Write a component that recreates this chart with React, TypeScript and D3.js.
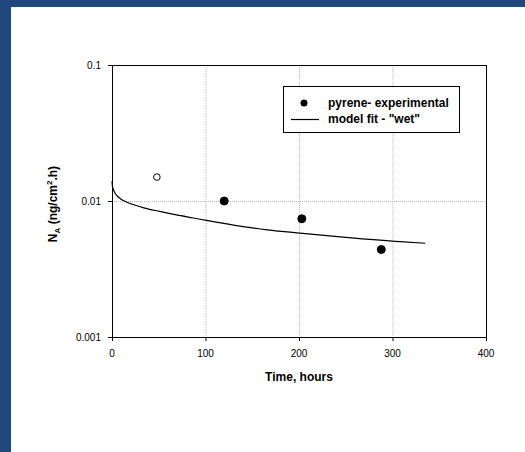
import React, { useEffect, useRef } from 'react';
import * as d3 from 'd3';

const width = 525;
const height = 452;

// experimental points (hours, ng/cm2.h); first one is the open (excluded) point
const expHours = [48, 120, 203, 288];
const expFlux = [0.015, 0.01, 0.0074, 0.0044];
const expOpen = [true, false, false, false];

// model fit - "wet"
const fitHours = [0, 0.5, 1.4, 3, 5, 9, 16, 25, 34, 51, 69, 87, 101, 130, 166, 201, 250, 308, 335];
const fitFlux = [0.014, 0.0128, 0.0122, 0.0115, 0.011, 0.0104, 0.0098, 0.0093, 0.0089, 0.00838, 0.0079, 0.0075, 0.0072, 0.00665, 0.00614, 0.0058, 0.0054, 0.00502, 0.00489];

const xTicks = [0, 100, 200, 300, 400];
const yTicks = [0.1, 0.01, 0.001];
const yTickLabels = ['0.1', '0.01', '0.001'];

const legendLabels = ['pyrene- experimental', 'model fit - "wet"'];

const App = () => {
  const ref = useRef<SVGSVGElement>(null);

  useEffect(() => {
    const svg = d3.select(ref.current);
    svg.selectAll('*').remove();
    const font = 'Liberation Sans, Arial, sans-serif';

    svg.append('rect').attr('width', width).attr('height', height).attr('fill', '#1f497d');
    svg.append('rect').attr('x', 11).attr('y', 7).attr('width', width - 11).attr('height', height - 7).attr('fill', '#fff');

    const left = 112, right = 486, top = 65, bottom = 337;
    const x = d3.scaleLinear().domain([0, 400]).range([left, right]);
    const y = d3.scaleLog().domain([0.001, 0.1]).range([bottom, top]);

    // grid
    const grid = svg.append('g').attr('stroke', '#b8b8b8').attr('stroke-width', 1).attr('stroke-dasharray', '1,1');
    [100, 200, 300].forEach(t => {
      grid.append('line').attr('x1', x(t) + 0.5).attr('x2', x(t) + 0.5).attr('y1', top).attr('y2', bottom);
    });
    grid.append('line').attr('x1', left).attr('x2', right).attr('y1', y(0.01) + 0.5).attr('y2', y(0.01) + 0.5);

    // frame
    svg.append('rect')
      .attr('x', left + 0.5).attr('y', top + 0.5)
      .attr('width', right - left).attr('height', bottom - top)
      .attr('fill', 'none').attr('stroke', '#000');

    // x ticks
    xTicks.forEach(t => {
      svg.append('line').attr('x1', x(t) + 0.5).attr('x2', x(t) + 0.5)
        .attr('y1', bottom).attr('y2', bottom + 4).attr('stroke', '#000');
      svg.append('text').attr('x', x(t)).attr('y', bottom + 20)
        .attr('text-anchor', 'middle').attr('font-family', font).attr('font-size', 10)
        .text(t);
    });

    // y ticks
    yTicks.forEach((v, i) => {
      svg.append('line').attr('x1', left - 4).attr('x2', left)
        .attr('y1', y(v) + 0.5).attr('y2', y(v) + 0.5).attr('stroke', '#000');
      svg.append('text').attr('x', left - 11).attr('y', y(v) + 4)
        .attr('text-anchor', 'end').attr('font-family', font).attr('font-size', 10)
        .text(yTickLabels[i]);
    });

    // axis titles
    svg.append('text').attr('x', x(200)).attr('y', 381)
      .attr('text-anchor', 'middle').attr('font-family', font).attr('font-size', 12).attr('font-weight', 'bold')
      .text('Time, hours');

    const yt = svg.append('text')
      .attr('transform', `translate(57,${y(0.01) + 3}) rotate(-90)`)
      .attr('text-anchor', 'middle').attr('font-family', font).attr('font-size', 12).attr('font-weight', 'bold');
    yt.append('tspan').text('N');
    yt.append('tspan').attr('font-size', 8).attr('dy', 3).text('A');
    yt.append('tspan').attr('dy', -3).text(' (ng/cm');
    yt.append('tspan').attr('font-size', 8).attr('dy', -5).text('2');
    yt.append('tspan').attr('dy', 5).text('.h)');

    // model line
    const line = d3.line<number>()
      .x((_, i) => x(fitHours[i]))
      .y(d => y(d))
      .curve(d3.curveMonotoneX);
    svg.append('path').datum(fitFlux).attr('d', line)
      .attr('fill', 'none').attr('stroke', '#000').attr('stroke-width', 1.2);

    // points
    expHours.forEach((t, i) => {
      svg.append('circle').attr('cx', x(t)).attr('cy', y(expFlux[i]))
        .attr('r', expOpen[i] ? 3.3 : 4)
        .attr('fill', expOpen[i] ? '#fff' : '#000')
        .attr('stroke', '#000').attr('stroke-width', 1);
    });

    // legend
    const lg = svg.append('g');
    lg.append('rect').attr('x', 283.5).attr('y', 86.5).attr('width', 176).attr('height', 46)
      .attr('fill', '#fff').attr('stroke', '#000');
    lg.append('circle').attr('cx', 304).attr('cy', 103).attr('r', 3.5).attr('fill', '#000');
    lg.append('line').attr('x1', 291).attr('x2', 319).attr('y1', 119.5).attr('y2', 119.5)
      .attr('stroke', '#000').attr('stroke-width', 1.2);
    legendLabels.forEach((s, i) => {
      lg.append('text').attr('x', 328).attr('y', 107 + i * 16)
        .attr('font-family', font).attr('font-size', 12).attr('font-weight', 'bold')
        .text(s);
    });
  }, []);

  return (
    <svg ref={ref} width={width} height={height}
      style={{ position: 'fixed', left: 0, top: 0, display: 'block' }} />
  );
};

export default App;
